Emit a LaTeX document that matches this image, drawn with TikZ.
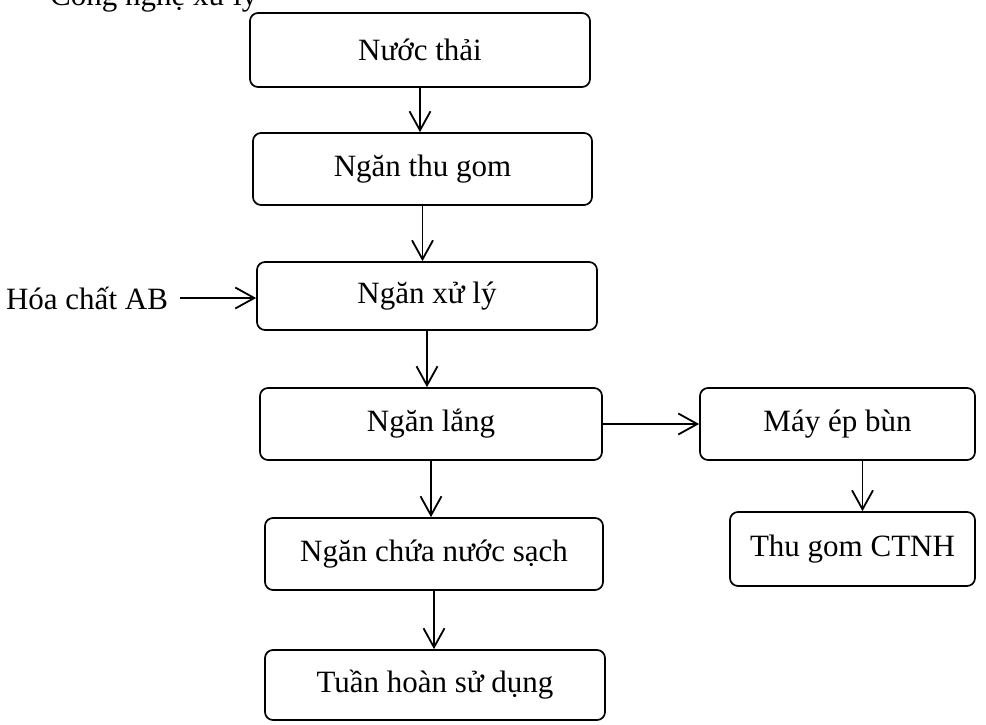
\documentclass[tikz,border=0pt]{standalone}
\usepackage{fontspec}
\setmainfont{Liberation Serif}
\usetikzlibrary{arrows.meta}
\begin{document}
\begin{tikzpicture}[x=1pt,y=-1pt,
  box/.style={draw, line width=1.7pt, rounded corners=8pt, inner sep=0pt,
    font=\fontsize{31}{37}\selectfont},
  lbl/.style={inner sep=0pt, font=\fontsize{31}{37}\selectfont},
  arr/.style={line width=1.8pt, -{Straight Barb[length=19pt,width=21pt,line width=1.8pt]}}]
  \useasboundingbox (0,0) rectangle (986,725);
  % heading line, cut by the top edge
  \node[lbl, anchor=base west] (head) at (50,6) {Công nghệ xử lý};
  % process boxes
  \node[box, minimum width=340pt, minimum height=74pt] (n1) at (420,50) {Nước thải};
  \node[box, minimum width=339pt, minimum height=72pt] (n2) at (422.5,169) {Ngăn thu gom};
  \node[box, minimum width=340pt, minimum height=68pt] (n3) at (427,296) {Ngăn xử lý};
  \node[box, minimum width=342pt, minimum height=72pt] (n4) at (431,424) {Ngăn lắng};
  \node[box, minimum width=275pt, minimum height=72pt] (n5) at (837.5,424) {Máy ép bùn};
  \node[box, minimum width=338pt, minimum height=72pt] (n6) at (434,554) {Ngăn chứa nước sạch};
  \node[box, minimum width=245pt, minimum height=74pt] (n7) at (852.5,549) {Thu gom CTNH};
  \node[box, minimum width=340pt, minimum height=70pt] (n8) at (435,685) {Tuần hoàn sử dụng};
  \node[lbl] (chem) at (87,298) {Hóa chất AB};
  \coordinate (chemend) at (180,298);
  % connectors
  \draw[arr] (n1.south) -- (n1.south |- n2.north);
  \draw[arr] (n2.south) -- (n2.south |- n3.north);
  \draw[arr] (n3.south) -- (n3.south |- n4.north);
  \draw[arr] (n4.south) -- (n4.south |- n6.north);
  \draw[arr] (n6.south) -- (n6.south |- n8.north);
  \draw[arr] (chemend) -- (chemend -| n3.west);
  \draw[arr] (n4.east) -- (n5.west);
  \draw[arr] ([xshift=10pt]n7.north |- n5.south) -- ([xshift=10pt]n7.north);
\end{tikzpicture}
\end{document}
